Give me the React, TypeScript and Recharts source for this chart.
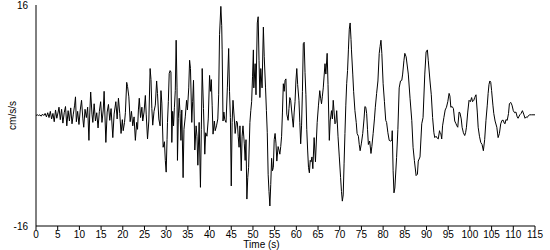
import { LineChart, Line, XAxis, YAxis } from "recharts";

// [time s, cm/s/s], split by phase
const preEvent: [number, number][] = [
  [0, 0], [0.3, 0.1], [0.6, 0], [0.9, 0.1], [1.2, -0.1], [1.5, 0.2], [1.8, 0], [2.1, 0.3], [2.4, -0.2],
  [2.7, 0.4], [3.0, -0.3], [3.3, 0.6], [3.6, -0.5], [3.9, 0.3], [4.2, -0.9], [4.5, 0.8], [4.8, -0.4],
  [5.1, 0.5], [5.3, 1.2], [5.6, -0.6], [5.9, 0.9], [6.2, -1.1], [6.5, 0.4], [6.8, 1.3], [7.1, -1.5],
  [7.4, 0.7], [7.7, -0.8], [8.0, 1.1], [8.3, -1.2], [8.6, 0.2], [8.9, 1.5], [9.1, 2.7], [9.3, -0.9],
  [9.6, 0.6], [9.9, -1.3], [10.2, 0.8], [10.5, 2.2], [10.8, -0.5], [11.0, -1.7], [11.3, 0.9], [11.6, -0.3],
  [11.9, 1.2], [12.2, -3.6], [12.4, 0.5], [12.6, 3.4], [12.9, 0.2], [13.1, -1.0], [13.4, 1.7], [13.7, -0.8],
  [14.0, 0.4], [14.3, -1.8], [14.6, 0.6], [14.9, 2.0], [15.2, -1.0], [15.5, 0.8], [15.7, 3.5], [16.1, -3.9],
];

const strongMotion: [number, number][] = [
  [16.4, 0.5], [16.7, 1.6], [17.0, -0.7], [17.3, 1.0], [17.7, -3.2], [18.0, 0.2], [18.4, 2.0], [18.7, -0.5],
  [19.0, 2.5], [19.3, 0.3], [19.6, -2.6], [19.9, -0.6], [20.1, -2.2], [20.4, -1.0], [20.6, 0.4], [20.9, 4.8],
  [21.1, 4.2], [21.4, 2.7], [21.7, -0.9], [22.0, 0.6], [22.3, -1.5], [22.6, -0.2], [22.9, -3.6], [23.2, -1.0],
  [23.4, -2.0], [23.6, 0.8], [23.8, 2.5], [24.1, -0.3], [24.4, 1.2], [24.6, -0.8], [24.9, 0.5], [25.2, 2.9],
  [25.4, 0.2], [25.7, -3.4], [26.0, -0.8], [26.3, 6.8], [26.5, 5.2], [26.7, 1.0], [26.9, -1.4], [27.2, 0.6],
  [27.5, 1.5], [27.8, 5.0], [28.0, 3.2], [28.3, -0.5], [28.6, -1.5], [28.8, 3.6], [29.0, 1.8], [29.3, -4.6],
  [29.6, -3.8], [29.8, -6.5], [30.0, -8.2], [30.2, -3.5], [30.3, -1.0], [30.5, 2.0], [30.7, 6.1], [30.9, 6.5],
  [31.1, 6.3], [31.3, -3.9], [31.5, 0.6], [31.7, -1.5], [31.9, 1.2], [32.1, 3.6], [32.3, 10.9], [32.5, 4.0],
  [32.6, -6.5], [32.8, -0.4], [33.0, 2.5], [33.2, 0.3], [33.4, -3.6], [33.6, 0.8], [33.9, -9.0], [34.1, -2.0],
  [34.4, -0.2], [34.7, 2.2], [34.9, 0.8], [35.2, 4.0], [35.4, 8.0], [35.6, 6.8], [35.9, -1.0], [36.1, 2.0],
  [36.3, 5.1], [36.6, -5.0], [36.9, -1.5], [37.1, -3.0], [37.3, -7.2], [37.6, -1.0], [37.9, -10.4], [38.1, -2.0],
  [38.3, 6.8], [38.6, 1.0], [38.9, -5.6], [39.1, -2.5], [39.4, -3.0], [39.7, -0.5], [40.0, 5.8], [40.2, 3.5],
  [40.4, 5.2], [40.6, 1.5], [40.8, -2.7], [41.1, -0.8], [41.3, -2.2], [41.6, -1.5], [41.9, -0.5], [42.1, 3.0],
  [42.3, 11.7], [42.6, 15.8], [42.8, 13.0], [42.9, 9.5], [43.1, -0.8], [43.3, 0.5], [43.5, -0.6], [43.8, -1.0],
  [44.1, 4.0], [44.4, 9.7], [44.6, 3.5], [44.8, -0.3], [45.0, -10.2], [45.2, -1.0], [45.4, 2.2], [45.7, -0.5],
  [45.9, -2.6], [46.2, -0.8], [46.4, -1.0], [46.6, -3.0], [46.8, -4.6], [47.0, -1.5], [47.3, -8.0], [47.5, -3.0],
  [47.7, -1.5], [48.0, -4.0], [48.2, -6.5], [48.4, -3.5], [48.6, -12.1], [48.8, -9.0], [49.0, -7.5], [49.3, -1.0],
  [49.5, 0.7], [49.7, 2.0], [49.9, 5.6], [50.1, 9.5], [50.2, 4.0], [50.5, 7.5], [50.7, 3.0], [51.0, 13.4],
  [51.2, 14.3], [51.4, 8.0], [51.6, 2.6], [51.8, 6.8], [52.1, 4.0], [52.4, 12.8], [52.6, 8.5], [52.9, 4.0],
  [53.1, 0.7], [53.3, -2.5], [53.5, -8.5], [53.7, -11.0], [53.9, -13.1], [54.1, -10.0], [54.3, -6.2], [54.5, -8.0],
  [54.7, -7.5], [54.9, -3.5], [55.1, -2.6], [55.3, -4.0], [55.5, -6.6], [55.8, -4.5], [56.0, -5.0], [56.2, -5.6],
  [56.4, -4.5], [56.6, -3.0], [56.8, 0.5], [57.0, 4.6], [57.2, 3.5], [57.4, 5.1], [57.6, 5.3], [57.8, 0.2],
  [58.1, -0.7], [58.3, 1.0], [58.5, 2.6], [58.7, 2.2], [58.9, 0.8], [59.1, -0.5], [59.3, -1.7], [59.5, 0.5],
  [59.7, 2.0], [59.9, 5.0], [60.1, 6.8], [60.3, 4.5], [60.6, 2.2], [60.8, -1.0], [61.0, -4.1], [61.2, -1.5],
  [61.4, 3.5], [61.6, 10.4], [61.8, 10.6], [62.0, 6.2], [62.2, 3.0], [62.4, -2.0], [62.6, -5.0], [62.8, -7.5],
  [63.0, -8.3], [63.2, -6.5], [63.4, -6.7], [63.6, -6.0], [63.8, -7.7], [64.1, -3.2], [64.4, -6.7], [64.8, -1.0],
];

const surfaceWaves: [number, number][] = [
  [65.1, 1.5], [65.4, 3.6], [65.6, 2.5], [65.8, 1.7], [66.0, 2.8], [66.2, 4.0], [66.6, 7.5], [66.8, 6.0],
  [67.1, 9.0], [67.3, 4.5], [67.6, -3.6], [67.8, -0.8], [68.1, 0.7], [68.3, -0.5], [68.5, 2.2], [68.7, 0.5],
  [68.9, -1.2], [69.1, -1.0], [69.3, 0.7], [69.6, -3.0], [69.9, -6.0], [70.2, -9.0], [70.4, -11.0], [70.6, -12.4],
  [70.8, -11.5], [71.0, -7.0], [71.2, -2.6], [71.4, 1.5], [71.6, 4.6], [71.8, 6.5], [72.0, 9.5], [72.2, 12.5],
  [72.4, 13.4], [72.6, 11.0], [72.7, 9.5], [73.0, 6.0], [73.2, 3.5], [73.5, 0.7], [73.8, -1.0], [74.0, -2.6],
  [74.3, -3.0], [74.5, -4.2], [74.7, -5.1], [75.0, -4.0], [75.3, -2.6], [75.6, -0.5], [75.8, 1.3], [76.0, 1.2],
  [76.2, 0.3], [76.4, -2.0], [76.6, -4.2], [76.9, -3.7], [77.2, -5.5], [77.4, -4.5], [77.7, -2.6], [78.0, -0.5],
  [78.2, 1.2], [78.5, 3.2], [78.8, 5.0], [79.1, 9.0], [79.3, 10.0], [79.5, 10.9], [79.7, 9.0], [80.0, 4.6],
  [80.3, 2.0], [80.6, -0.7], [80.8, -1.0], [81.1, -2.5], [81.4, -3.6], [81.7, -3.7], [82.0, -3.6], [82.1, -2.2],
  [82.3, -8.0], [82.5, -11.2], [82.7, -10.5], [83.1, -6.1], [83.4, -2.0], [83.7, 4.0], [84.0, 5.0], [84.3, 5.1],
  [84.5, 6.0], [84.8, 8.0], [85.0, 9.0], [85.3, 8.5], [85.8, 6.0], [86.2, 2.5], [86.6, -0.7], [86.9, -4.6],
  [87.2, -6.5], [87.6, -8.7], [87.9, -8.5], [88.1, -6.6], [88.5, -6.0], [88.9, -1.2], [89.2, -0.3], [89.6, 6.0],
  [89.9, 9.2], [90.2, 9.5], [90.4, 8.0], [90.8, 5.0], [91.1, 3.0], [91.4, -0.3], [91.7, -2.5], [91.9, -3.2],
  [92.2, -3.0], [92.5, -3.3], [92.7, -3.4], [93.0, -2.2], [93.1, -2.5], [93.3, -2.6], [93.5, -3.4], [93.7, -1.5],
];

const coda: [number, number][] = [
  [94.0, -0.3], [94.3, 0.8], [94.6, 1.2], [94.9, 2.0], [95.2, 3.2], [95.4, 2.8], [95.6, 1.2], [95.9, 1.3],
  [96.2, 1.0], [96.5, -0.8], [96.8, -1.2], [97.0, -1.5], [97.2, -1.7], [97.5, 0.5], [97.7, 0.4], [98.0, -0.5],
  [98.2, -1.7], [98.5, -2.5], [98.8, -2.9], [99.0, -2.5], [99.2, -1.7], [99.5, 0.5], [99.8, 2.2], [100.1, 2.0],
  [100.4, 2.6], [100.6, 2.0], [100.9, 2.2], [101.1, 2.6], [101.4, 3.0], [101.7, 0.5], [101.9, -1.7], [102.2, -3.0],
  [102.5, -3.9], [102.8, -4.2], [103.1, -5.1], [103.4, -3.5], [103.7, -0.7], [104.0, 1.5], [104.2, 3.2], [104.4, 4.5],
  [104.6, 5.0], [104.8, 4.8], [105.0, 3.6], [105.3, 1.5], [105.5, 0.3], [105.8, -0.8], [106.2, -1.7], [106.5, -3.2],
  [106.8, -2.6], [107.1, -1.2], [107.4, -0.7], [107.7, -0.7], [107.9, -1.1], [108.1, -1.2], [108.3, -0.6], [108.6, -0.7],
  [108.9, 0.3], [109.1, 1.7], [109.4, 1.9], [109.7, 1.5], [110.0, 0.7], [110.3, 0.4], [110.6, 0.5], [110.9, -0.2],
  [111.1, -0.4], [111.5, 0.1], [111.8, 0.3], [112.1, 0.7], [112.4, 0.2], [112.7, -0.4], [113.0, -0.2], [113.2, -0.3],
  [113.5, 0.0], [113.8, 0.1], [114.2, 0.1], [115.0, 0.1],
];

const xTicks = [0, 5, 10, 15, 20, 25, 30, 35, 40, 45, 50, 55, 60, 65, 70, 75, 80, 85, 90, 95, 100, 105, 110, 115];
const yTicks = [-16, 16];

const data = [...preEvent, ...strongMotion, ...surfaceWaves, ...coda].map(([t, v]) => ({ t, v }));

const font = { fontFamily: "'Liberation Sans', Arial, sans-serif", fontSize: 10, fill: "#000" };

export default function App() {
  return (
    <div style={{ position: "absolute", left: 0, top: 0, width: 550, height: 250, background: "#fff" }}>
      <LineChart width={550} height={250} data={data} margin={{ top: 5, right: 15, bottom: 0, left: 0 }}>
        <XAxis
          dataKey="t"
          type="number"
          domain={[0, 115]}
          ticks={xTicks}
          interval={0}
          height={24}
          tickSize={4}
          tickMargin={1}
          stroke="#000"
          tick={font}
          label={{ value: "Time (s)", position: "insideBottom", offset: 2, dx: -24, style: font }}
        />
        <YAxis
          type="number"
          domain={[-16, 16]}
          ticks={yTicks}
          width={36}
          tickLine={false}
          stroke="#000"
          tick={font}
          label={{ value: "cm/s/s", angle: -90, position: "insideLeft", offset: 12, style: { ...font, textAnchor: "middle" } }}
        />
        <Line dataKey="v" type="linear" stroke="#000" strokeWidth={1} dot={false} isAnimationActive={false} />
      </LineChart>
    </div>
  );
}
